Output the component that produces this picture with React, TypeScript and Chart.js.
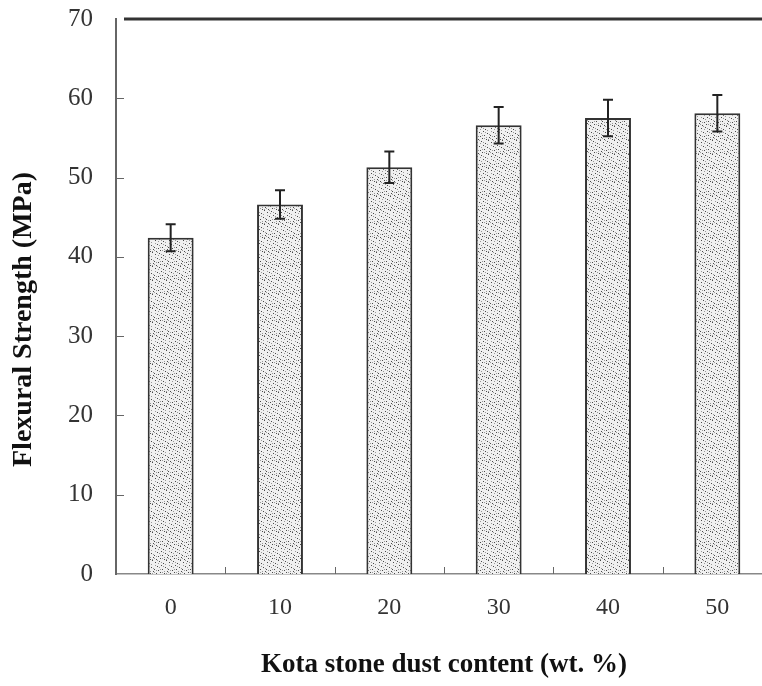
import React, { useEffect, useRef } from "react";
import { Chart, registerables } from "chart.js";

Chart.register(...registerables);

const categories = ["0", "10", "20", "30", "40", "50"];
const strengthValues = [42.4, 46.6, 51.3, 56.6, 57.5, 58.1];
const strengthErrors = [1.7, 1.8, 2.0, 2.3, 2.3, 2.3];
const yTicks = [0, 10, 20, 30, 40, 50, 60, 70];

const xTitle = "Kota stone dust content (wt. %)";
const yTitle = "Flexural Strength (MPa)";

// fixed stipple texture dots inside a 14x14 tile
const stippleDark = [[1,2],[5,1],[9,3],[12,0],[3,6],[7,5],[11,7],[0,9],[4,10],[8,9],[13,11],[2,13],[6,12],[10,13]];
const stippleMid = [[3,0],[7,2],[11,4],[1,5],[5,7],[9,6],[13,8],[2,10],[6,9],[10,11],[12,13],[0,12],[4,3],[8,12]];

function makePattern(): CanvasPattern | string {
  const c = document.createElement("canvas");
  c.width = 14;
  c.height = 14;
  const g = c.getContext("2d");
  if (!g) return "#e6e6e6";
  g.fillStyle = "#f0f0f0";
  g.fillRect(0, 0, 14, 14);
  g.fillStyle = "#9a9a9a";
  stippleMid.forEach(([x, y]) => g.fillRect(x, y, 1, 1));
  g.fillStyle = "#4a4a4a";
  stippleDark.forEach(([x, y]) => g.fillRect(x, y, 1, 1));
  const p = g.createPattern(c, "repeat");
  return p || "#e6e6e6";
}

const decorPlugin = {
  id: "decor",
  afterDatasetsDraw(chart: any) {
    const ctx = chart.ctx;
    const xs = chart.scales.x;
    const ys = chart.scales.y;
    const area = chart.chartArea;
    ctx.save();
    // error bars
    const meta = chart.getDatasetMeta(0);
    ctx.strokeStyle = "#222";
    ctx.lineWidth = 2;
    meta.data.forEach((bar: any, i: number) => {
      const v = strengthValues[i];
      const e = strengthErrors[i];
      const x = bar.x;
      const yt = ys.getPixelForValue(v + e);
      const yb = ys.getPixelForValue(v - e);
      ctx.beginPath();
      ctx.moveTo(x, yt);
      ctx.lineTo(x, yb);
      ctx.moveTo(x - 5, yt);
      ctx.lineTo(x + 5, yt);
      ctx.moveTo(x - 5, yb);
      ctx.lineTo(x + 5, yb);
      ctx.stroke();
    });
    // inside y ticks
    ctx.strokeStyle = "#666";
    ctx.lineWidth = 1;
    yTicks.forEach((t) => {
      if (t === 0 || t === 70) return;
      const y = Math.round(ys.getPixelForValue(t)) + 0.5;
      ctx.beginPath();
      ctx.moveTo(area.left, y);
      ctx.lineTo(area.left + 8, y);
      ctx.stroke();
    });
    // inside x ticks at category boundaries
    for (let i = 0; i < categories.length - 1; i++) {
      const x = Math.round((xs.getPixelForValue(i) + xs.getPixelForValue(i + 1)) / 2) + 0.5;
      ctx.beginPath();
      ctx.moveTo(x, area.bottom);
      ctx.lineTo(x, area.bottom - 7);
      ctx.stroke();
    }
    // top frame line
    ctx.strokeStyle = "#333";
    ctx.lineWidth = 3;
    ctx.beginPath();
    ctx.moveTo(area.left + 8, area.top);
    ctx.lineTo(area.right, area.top);
    ctx.stroke();
    // y title
    ctx.fillStyle = "#111";
    ctx.font = "bold 28px 'Liberation Serif', serif";
    ctx.textAlign = "center";
    ctx.textBaseline = "middle";
    ctx.translate(24, (area.top + area.bottom) / 2 + 23);
    ctx.rotate(-Math.PI / 2);
    ctx.fillText(yTitle, 0, 0);
    ctx.restore();
  },
};

export default function App() {
  const ref = useRef<HTMLCanvasElement | null>(null);
  useEffect(() => {
    if (!ref.current) return;
    const pattern = makePattern();
    const chart = new Chart(ref.current, {
      type: "bar",
      data: {
        labels: categories,
        datasets: [
          {
            data: strengthValues,
            backgroundColor: pattern as any,
            borderColor: "#333",
            borderWidth: 2,
            borderSkipped: "bottom",
            barPercentage: 0.42,
            categoryPercentage: 1,
          },
        ],
      },
      options: {
        responsive: false,
        animation: false,
        devicePixelRatio: 1,
        layout: { padding: { top: 19, right: 8, left: 0, bottom: 0 } },
        plugins: { legend: { display: false }, tooltip: { enabled: false } },
        scales: {
          x: {
            grid: { display: false, drawTicks: false },
            border: { display: true, color: "#888", width: 1.5 },
            ticks: {
              padding: 19,
              color: "#333",
              font: { family: "'Liberation Serif', serif", size: 24 },
            },
            title: {
              display: true,
              text: xTitle,
              color: "#111",
              padding: 5,
              font: { family: "'Liberation Serif', serif", size: 27, weight: "bold" },
            },
            afterFit: (s: any) => {
              s.height = 112;
              s.paddingLeft = 0;
              s.paddingRight = 0;
            },
          },
          y: {
            min: 0,
            max: 70,
            grid: { display: false, drawTicks: false },
            border: { display: true, color: "#666", width: 2 },
            ticks: {
              stepSize: 10,
              padding: 23,
              color: "#333",
              font: { family: "'Liberation Serif', serif", size: 25 },
            },
            afterFit: (s: any) => {
              s.width = 116;
              s.paddingTop = 0;
              s.paddingBottom = 0;
            },
          },
        },
      },
      plugins: [decorPlugin],
    });
    return () => chart.destroy();
  }, []);
  return (
    <div
      style={{
        position: "fixed",
        left: 0,
        top: 0,
        width: 762,
        height: 686,
        overflow: "hidden",
        background: "#fff",
      }}
    >
      <canvas ref={ref} width={780} height={686} style={{ width: 780, height: 686, display: "block" }} />
    </div>
  );
}
